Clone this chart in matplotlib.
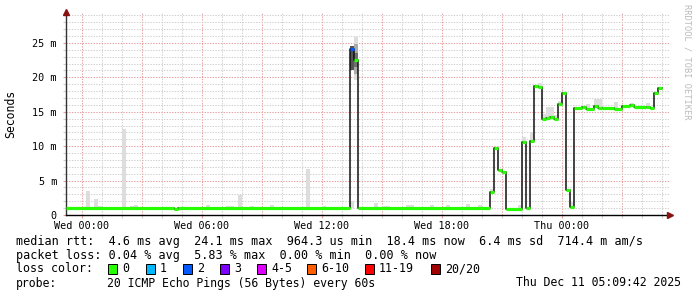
import matplotlib
matplotlib.use('Agg')
import matplotlib.pyplot as plt
from matplotlib.patches import Rectangle
from matplotlib.ticker import MultipleLocator

# time axis: hours since Wed 00:00, one rrd step = 0.2 h
t_start, t_stop = -0.8, 29.35

# median rtt (ms), step starts, and pings lost out of 20
med_t = [-0.8, 4.6, 4.8, 13.4, 13.6, 13.8, 20.4, 20.6, 20.8, 21.0, 21.2, 22.0, 22.2,
         22.4, 22.6, 22.8, 23.0, 23.2, 23.4, 23.6, 23.8, 24.0, 24.2, 24.4, 24.6,
         25.0, 25.2, 25.6, 25.8, 26.0, 26.6, 27.0, 27.4, 27.6, 28.2, 28.4, 28.6, 28.8]
med_ms = [1.0, 0.93, 1.0, 24.1, 22.5, 1.0, 3.4, 9.8, 6.6, 6.2, 0.9, 10.6, 1.0,
          10.8, 18.75, 18.6, 13.9, 14.1, 14.2, 14.0, 16.2, 17.7, 3.6, 1.15, 15.5,
          15.7, 15.45, 15.8, 15.55, 15.5, 15.45, 15.85, 16.0, 15.65, 15.75, 15.55, 17.8, 18.4]
med_loss = [0, 0, 0, 2, 0, 0, 0, 0, 0, 0, 0, 0, 0,
            0, 0, 0, 0, 0, 0, 0, 0, 0, 0, 0, 0,
            0, 0, 0, 0, 0, 0, 0, 0, 0, 0, 0, 0, 0]
med_end = 29.0

# smoke (spread of the 20 pings), ms
smoke_t = [0.2, 0.6, 0.8, 2.0, 2.4, 2.6, 6.2, 7.2, 7.4, 7.8, 8.4, 9.4, 11.2, 12.0,
           13.0, 13.4, 13.6, 14.6, 15.0, 15.2, 16.2, 16.4, 17.4, 18.2, 19.2, 19.8,
           20.4, 21.8, 22.0, 22.4, 22.8, 23.0, 23.2, 23.4, 23.6, 23.8, 24.4,
           25.2, 25.6, 25.8, 26.6, 27.4, 28.2]
smoke_lo = [1.0, 1.0, 1.0, 1.0, 1.0, 1.0, 1.0, 1.0, 1.0, 1.0, 1.0, 1.0, 1.0, 1.0,
            1.0, 1.0, 19.6, 1.0, 1.0, 1.0, 1.0, 1.0, 1.0, 1.0, 1.0, 1.0,
            3.2, 0.9, 10.4, 10.6, 18.4, 13.7, 13.9, 14.0, 13.8, 16.0, 1.0,
            15.3, 15.6, 15.4, 15.3, 15.8, 15.6]
smoke_hi = [3.5, 2.3, 1.3, 12.5, 1.3, 1.5, 1.45, 1.3, 1.3, 2.95, 1.3, 1.45, 6.7, 1.3,
            1.15, 2.0, 25.9, 1.75, 1.3, 1.3, 1.45, 1.45, 1.45, 1.45, 1.6, 1.45,
            3.8, 1.45, 11.3, 12.0, 19.2, 14.7, 15.7, 15.7, 14.5, 16.6, 1.9,
            16.1, 16.9, 16.9, 16.4, 16.3, 16.3]

# denser smoke inside the spike
dark_t = [13.4, 13.6, 13.6]
dark_lo = [21.0, 20.5, 21.5]
dark_hi = [24.6, 24.8, 23.5]
dark_col = ['#555555', '#aaaaaa', '#707070']

loss_labels = ['0', '1', '2', '3', '4-5', '6-10', '11-19', '20/20']
loss_colors = ['#26ff00', '#00b8ff', '#0059ff', '#7e00ff', '#dd00ff', '#ff5e00', '#ff0000', '#a10000']
loss_color_of = {0: loss_colors[0], 1: loss_colors[1], 2: loss_colors[2], 3: loss_colors[3]}

x_labels = ['Wed 00:00', 'Wed 06:00', 'Wed 12:00', 'Wed 18:00', 'Thu 00:00']
x_label_pos = [0, 6, 12, 18, 24]

legend_rtt = 'median rtt:  4.6 ms avg  24.1 ms max  964.3 us min  18.4 ms now  6.4 ms sd  714.4 m am/s'
legend_loss = 'packet loss: 0.04 % avg  5.83 % max  0.00 % min  0.00 % now'
legend_probe = [('probe:', 16), ('20 ICMP Echo Pings (56 Bytes) every 60s', 107)]
stamp = 'Thu Dec 11 05:09:42 2025'

mono = 'DejaVu Sans Mono'
W, H = 697, 297

fig = plt.figure(figsize=(W / 100, H / 100), dpi=100)
fig.patch.set_facecolor('white')
ax = fig.add_axes([66 / W, 1 - 215 / H, 603 / W, 203 / H])
ax.set_xlim(t_start, t_stop)
ax.set_ylim(0, 29.5)

# grid
for h in range(0, 30):
    major = h % 3 == 0
    ax.axvline(h, color='#e8a0a0' if major else '#d0d0d0', lw=0.75,
               ls=(0, (1.3, 1.3)), zorder=0)
for v in range(1, 30):
    major = v % 5 == 0
    ax.axhline(v, color='#e8a0a0' if major else '#d0d0d0', lw=0.75,
               ls=(0, (1.3, 1.3)), zorder=0)

# smoke
ax.bar(smoke_t, [hi - lo for lo, hi in zip(smoke_lo, smoke_hi)], bottom=smoke_lo,
       width=0.2, align='edge', color='#dddddd', linewidth=0, zorder=1)
ax.bar(dark_t, [hi - lo for lo, hi in zip(dark_lo, dark_hi)], bottom=dark_lo,
       width=0.2, align='edge', color=dark_col, linewidth=0, zorder=1)

# median: black step line with loss coloured tops
ax.step(med_t + [med_end], med_ms + [med_ms[-1]], where='post', color='#111111',
        lw=1.1, zorder=2)
ends = med_t[1:] + [med_end]
for t0, t1, v, l in zip(med_t, ends, med_ms, med_loss):
    ax.hlines(v, t0, t1, color=loss_color_of[l], lw=2.3, zorder=3)

# axes and ticks
for s in ['top', 'right']:
    ax.spines[s].set_visible(False)
ax.spines['left'].set_color('#333333')
ax.spines['bottom'].set_color('black')
ax.spines['left'].set_linewidth(1.0)
ax.spines['bottom'].set_linewidth(1.0)

ax.set_yticks([0, 5, 10, 15, 20, 25])
ax.set_yticklabels(['0', '5 m', '10 m', '15 m', '20 m', '25 m'], fontfamily=mono, fontsize=7.3)
ax.yaxis.set_minor_locator(MultipleLocator(1))
ax.set_xticks(x_label_pos)
ax.set_xticklabels(x_labels, fontfamily=mono, fontsize=7.3)
ax.xaxis.set_minor_locator(MultipleLocator(1))
ax.tick_params(axis='both', which='major', length=2.5, width=0.8, color='#e8a0a0', pad=2)
ax.tick_params(axis='both', which='minor', length=2, width=0.8, color='#d0d0d0')
ax.tick_params(axis='y', pad=4)

ax.plot([t_start], [29.5], marker='^', color='#8b1010', ms=4, clip_on=False, zorder=5)
ax.plot([t_stop + 0.03], [0], marker='>', color='#8b1010', ms=4, clip_on=False, zorder=5)

fig.text(11 / W, 1 - 114 / H, 'Seconds', rotation=90, ha='center', va='center',
         fontfamily=mono, fontsize=8.3)
fig.text(687 / W, 1 - 4 / H, 'RRDTOOL / TOBI OETIKER', rotation=270, ha='center', va='top',
         fontfamily=mono, fontsize=6.2, color='#bbbbbb')

# legend
def txt(x, y, s, size=8.4, **kw):
    fig.text(x / W, 1 - y / H, s, va='center', fontfamily=mono, fontsize=size, **kw)

txt(16, 241, legend_rtt, size=8.45)
txt(16, 255, legend_loss, size=8.45)
txt(16, 269, 'loss color:')
box_x = [108, 146, 183, 220, 257, 307, 365, 431]
for bx, lab, col in zip(box_x, loss_labels, loss_colors):
    fig.patches.append(Rectangle((bx / W, 1 - 274 / H), 9 / W, 10 / H, facecolor=col,
                                 edgecolor='black', lw=0.7, transform=fig.transFigure))
    txt(bx + 14, 269, lab)
for s, x in legend_probe:
    txt(x, 283, s, size=8.3)
txt(681, 283, stamp, size=8.3, ha='right')

fig.savefig('out.png', dpi=100)
